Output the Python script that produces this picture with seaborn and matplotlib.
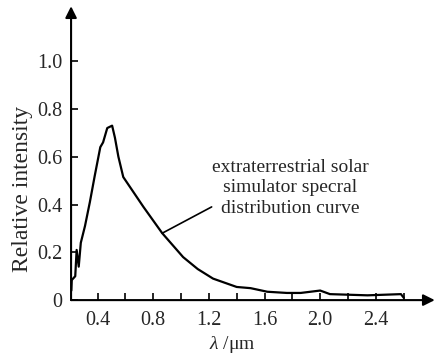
import matplotlib
matplotlib.use("Agg")
import matplotlib.pyplot as plt
import seaborn as sns
import pandas as pd
from matplotlib.ticker import FixedLocator

# values
wavelength = [0.212, 0.215, 0.24, 0.25, 0.265, 0.28, 0.31, 0.345, 0.38, 0.42,
              0.44, 0.47, 0.505, 0.525, 0.55, 0.585, 0.73, 0.865, 1.015, 1.12,
              1.23, 1.40, 1.50, 1.62, 1.76, 1.86, 2.0, 2.07, 2.34, 2.58, 2.6]
intensity = [0.04, 0.084, 0.10, 0.21, 0.14, 0.24, 0.31, 0.41, 0.52, 0.64,
             0.66, 0.72, 0.73, 0.68, 0.60, 0.515, 0.39, 0.28, 0.18, 0.13,
             0.09, 0.055, 0.05, 0.035, 0.03, 0.03, 0.04, 0.025, 0.02, 0.025, 0.01]

y_ticks = [0, 0.2, 0.4, 0.6, 0.8, 1.0]
y_labels = ["0", "0.2", "0.4", "0.6", "0.8", "1.0"]
x_ticks = [0.4, 0.8, 1.2, 1.6, 2.0, 2.4]
x_labels = ["0.4", "0.8", "1.2", "1.6", "2.0", "2.4"]
x_minor = [0.6, 1.0, 1.4, 1.8, 2.2, 2.6]

df = pd.DataFrame({"wavelength": wavelength, "intensity": intensity})

sns.set_style("white")
plt.rcParams["font.family"] = ["Liberation Serif", "DejaVu Serif"]
plt.rcParams["mathtext.fontset"] = "custom"
plt.rcParams["mathtext.rm"] = "Liberation Serif"
plt.rcParams["mathtext.it"] = "Liberation Serif:italic"

fig = plt.figure(figsize=(4.36, 3.56), dpi=100)
ax = fig.add_axes([0.163, 0.157, 0.83, 0.823])

sns.lineplot(data=df, x="wavelength", y="intensity", sort=False,
             estimator=None, color="black", linewidth=1.6, ax=ax)

ax.set_xlim(0.21, 2.81)
ax.set_ylim(0, 1.226)

for s in ax.spines.values():
    s.set_visible(False)

# axes drawn as arrows
ax.annotate("", xy=(1.005, 0), xytext=(0, 0), xycoords="axes fraction",
            arrowprops=dict(arrowstyle="-|>", color="black", lw=1.5,
                            mutation_scale=17, shrinkA=0, shrinkB=0))
ax.annotate("", xy=(0, 1.003), xytext=(0, 0), xycoords="axes fraction",
            arrowprops=dict(arrowstyle="-|>", color="black", lw=1.5,
                            mutation_scale=17, shrinkA=0, shrinkB=0))

ax.set_xticks(x_ticks)
ax.set_xticklabels(x_labels)
ax.xaxis.set_minor_locator(FixedLocator(x_minor))
ax.set_yticks(y_ticks)
ax.set_yticklabels(y_labels)
ax.tick_params(axis="both", which="both", direction="in", length=5,
               width=1.2, color="black", labelsize=14.5)
ax.tick_params(axis="x", which="both", bottom=True, pad=8)
ax.tick_params(axis="y", left=True, pad=6)

ax.set_xlabel(r"$\mathit{\lambda}$ /μm", fontsize=14)
ax.set_ylabel("Relative intensity", fontsize=17)
ax.xaxis.set_label_coords(0.445, -0.115)
ax.yaxis.set_label_coords(-0.105, 0.379)

ax.text(1.785, 0.47, "extraterrestrial solar\nsimulator specral\ndistribution curve",
        ha="center", va="center", fontsize=14, linespacing=1.25)
ax.annotate("", xy=(0.865, 0.28), xytext=(1.22, 0.39),
            arrowprops=dict(arrowstyle="-", color="black", lw=1.2,
                            shrinkA=0, shrinkB=0))

fig.savefig("out.png", dpi=100)
